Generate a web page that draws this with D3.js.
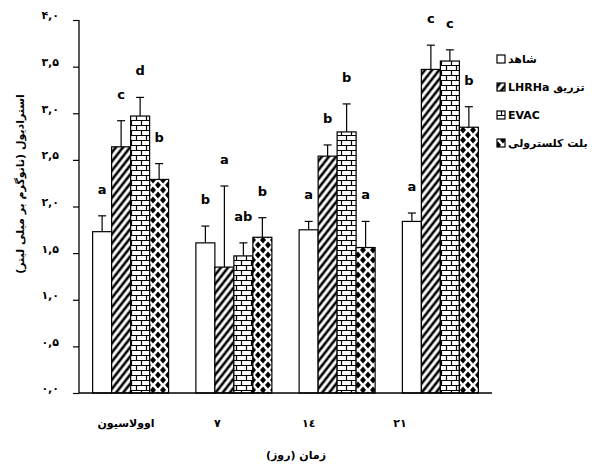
<!DOCTYPE html>
<html>
<head>
<meta charset="utf-8">
<script src="https://cdn.jsdelivr.net/npm/d3@7"></script>
<style>
  body { margin: 0; background: #fff; }
  text { font-family: "DejaVu Sans", sans-serif; }
</style>
</head>
<body>
<script>
// data
const days = ["اوولاسیون", "۷", "۱٤", "۲۱"];
const groups = ["شاهد", "تزریق LHRHa", "EVAC", "بلت کلسترولی"];
const control = [1.73, 1.61, 1.75, 1.84];
const lhrha = [2.64, 1.35, 2.54, 3.47];
const evac = [2.97, 1.47, 2.80, 3.56];
const cidr = [2.29, 1.67, 1.56, 2.85];
const controlErr = [0.17, 0.18, 0.09, 0.09];
const lhrhaErr = [0.28, 0.87, 0.12, 0.26];
const evacErr = [0.20, 0.14, 0.30, 0.12];
const cidrErr = [0.17, 0.21, 0.28, 0.22];
const controlLetters = ["a", "b", "a", "a"];
const lhrhaLetters = ["c", "a", "b", "c"];
const evacLetters = ["d", "ab", "b", "c"];
const cidrLetters = ["b", "b", "a", "b"];
const yTicks = [0, 0.5, 1, 1.5, 2, 2.5, 3, 3.5, 4];
const yTickLabels = ["۰,۰", "۰,۵", "۱,۰", "۱,۵", "۲,۰", "۲,۵", "۳,۰", "۳,۵", "۴,۰"];

const series = [
  { key: groups[0], vals: control, err: controlErr, let: controlLetters, fill: "#fff" },
  { key: groups[1], vals: lhrha, err: lhrhaErr, let: lhrhaLetters, fill: "url(#hatch)" },
  { key: groups[2], vals: evac, err: evacErr, let: evacLetters, fill: "url(#brick)" },
  { key: groups[3], vals: cidr, err: cidrErr, let: cidrLetters, fill: "url(#diam)" }
];

const w = 603, h = 473;
const svg = d3.select("body").append("svg").attr("width", w).attr("height", h);

// patterns
const defs = svg.append("defs");
const hatch = defs.append("pattern").attr("id", "hatch")
  .attr("patternUnits", "userSpaceOnUse").attr("width", 5.6).attr("height", 10)
  .attr("patternTransform", "rotate(38)");
hatch.append("rect").attr("width", 5.6).attr("height", 10).attr("fill", "#fff");
hatch.append("line").attr("x1", 2.8).attr("x2", 2.8).attr("y1", 0).attr("y2", 10)
  .attr("stroke", "#000").attr("stroke-width", 2.6);

const brick = defs.append("pattern").attr("id", "brick")
  .attr("patternUnits", "userSpaceOnUse").attr("width", 10).attr("height", 10);
brick.append("rect").attr("width", 10).attr("height", 10).attr("fill", "#fff");
brick.append("path")
  .attr("d", "M0,0.5H10M0,5.5H10M1.5,0.5V5.5M6.5,5.5V10")
  .attr("stroke", "#000").attr("stroke-width", 1.2).attr("fill", "none");

const diam = defs.append("pattern").attr("id", "diam")
  .attr("patternUnits", "userSpaceOnUse").attr("width", 10).attr("height", 10)
  .attr("x", 3);
diam.append("rect").attr("width", 10).attr("height", 10).attr("fill", "#fff");
diam.append("path")
  .attr("d", "M5,1.5L8,5L5,8.5L2,5Z M0,-3.5L3,0L0,3.5L-3,0Z M10,-3.5L13,0L10,3.5L7,0Z M0,6.5L3,10L0,13.5L-3,10Z M10,6.5L13,10L10,13.5L7,10Z")
  .attr("fill", "#000");

// scales
const y = d3.scaleLinear().domain([0, 4]).range([393, 20]);
const x0 = d3.scaleBand().domain(days).range([79, 492]).paddingInner(0.264).paddingOuter(0.132);
const x1 = d3.scaleBand().domain(groups).range([0, x0.bandwidth()]);
const xLab = d3.scalePoint().domain(days).range([126, 400]);

// y axis
const yAxis = d3.axisLeft(y).tickValues(yTicks).tickSize(6)
  .tickFormat((d, i) => yTickLabels[i]);
const ya = svg.append("g").attr("transform", "translate(79,0)").call(yAxis);
ya.select(".domain").attr("stroke", "#000").attr("stroke-width", 1.3).attr("d", "M0,20V393");
ya.selectAll(".tick line").attr("stroke", "#000").attr("stroke-width", 1.2);
ya.selectAll(".tick text")
  .attr("x", -20).attr("dy", "-0.1em")
  .style("font-size", "11px").style("font-weight", "bold")
  .style("font-family", "DejaVu Sans");

// bars
const gSel = svg.selectAll(".grp").data(series).enter().append("g").attr("class", "grp");
gSel.each(function (s) {
  const g = d3.select(this);
  days.forEach((d, i) => {
    const bx = x0(d) + x1(s.key);
    const bw = x1.bandwidth();
    g.append("rect")
      .attr("x", bx).attr("y", y(s.vals[i]))
      .attr("width", bw).attr("height", y(0) - y(s.vals[i]))
      .attr("fill", s.fill).attr("stroke", "#000").attr("stroke-width", 1.2);
    const cx = bx + bw / 2;
    const top = y(s.vals[i] + s.err[i]);
    g.append("line").attr("x1", cx).attr("x2", cx)
      .attr("y1", y(s.vals[i])).attr("y2", top)
      .attr("stroke", "#000").attr("stroke-width", 1.2);
    g.append("line").attr("x1", cx - 4).attr("x2", cx + 4)
      .attr("y1", top).attr("y2", top)
      .attr("stroke", "#000").attr("stroke-width", 1.2);
    g.append("text").attr("x", cx).attr("y", top - 22)
      .attr("text-anchor", "middle")
      .style("font-size", "13px").style("font-weight", "bold")
      .text(s.let[i]);
  });
});

// x axis line
svg.append("line").attr("x1", 79).attr("x2", 492).attr("y1", 393).attr("y2", 393)
  .attr("stroke", "#000").attr("stroke-width", 1.4);

// category labels
svg.selectAll(".cat").data(days).enter().append("text")
  .attr("class", "cat")
  .attr("x", d => xLab(d)).attr("y", 427)
  .attr("text-anchor", "middle")
  .style("font-size", "11px").style("font-weight", "bold")
  .text(d => d);

// axis titles
svg.append("text")
  .attr("x", 296).attr("y", 459)
  .attr("text-anchor", "middle").attr("direction", "rtl")
  .style("font-size", "11px").style("font-weight", "bold")
  .text("زمان (روز)");

svg.append("text")
  .attr("transform", "translate(24,184) rotate(-90)")
  .attr("text-anchor", "middle").attr("direction", "rtl")
  .style("font-size", "11px").style("font-weight", "bold")
  .text("استرادیول (نانوگرم بر میلی لیتر)");

// legend
const leg = svg.append("g");
series.forEach((s, i) => {
  const ly = 59 + i * 28;
  leg.append("rect").attr("x", 497).attr("y", ly - 4).attr("width", 8).attr("height", 8)
    .attr("fill", s.fill).attr("stroke", "#000").attr("stroke-width", 1.2);
  leg.append("text").attr("x", 508).attr("y", ly + 4)
    .attr("direction", "rtl").attr("text-anchor", "end")
    .style("font-size", "11px").style("font-weight", "bold")
    .text(s.key);
});
</script>
</body>
</html>
